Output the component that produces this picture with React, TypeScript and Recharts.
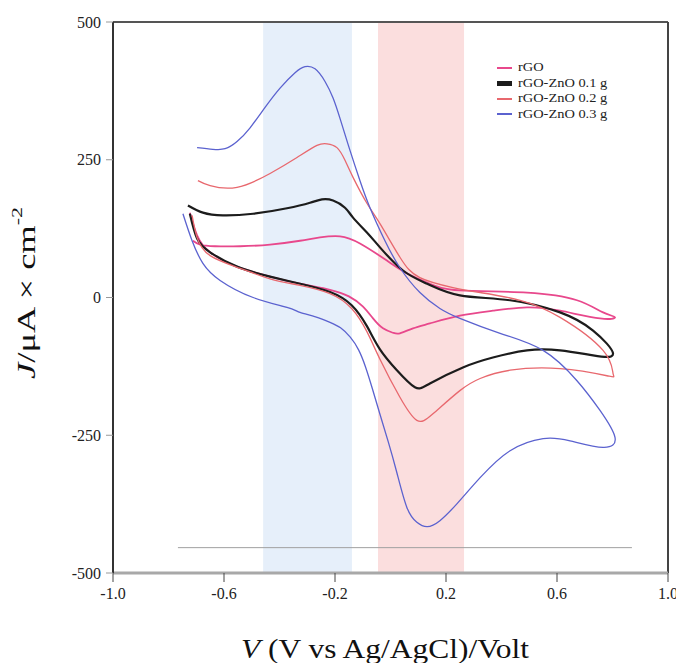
import React from 'react';
import { LineChart, Line, XAxis, YAxis, ReferenceArea, ReferenceLine, Legend } from 'recharts';

// Potential (V vs Ag/AgCl) , current density (µA/cm²) pairs, traced along each sweep
const rgoLoop: [number, number][] = [
  [-0.712, 103], [-0.686, 96], [-0.632, 93], [-0.542, 93], [-0.434, 96], [-0.326, 103],
  [-0.254, 109], [-0.182, 111], [-0.110, 98], [-0.013, 67], [0.059, 44], [0.142, 25],
  [0.250, 13], [0.492, 9], [0.672, -5], [0.766, -27], [0.809, -36],
  [0.755, -38], [0.611, -24], [0.492, -18], [0.369, -24], [0.250, -33], [0.142, -47],
  [0.081, -56], [0.034, -65], [0.009, -64], [-0.027, -56], [-0.063, -38], [-0.100, -16],
  [-0.150, 2], [-0.218, 14], [-0.326, 25], [-0.434, 38], [-0.553, 56], [-0.650, 82],
  [-0.697, 113], [-0.723, 154],
];

const zno01Loop: [number, number][] = [
  [-0.730, 167], [-0.676, 154], [-0.604, 149], [-0.495, 152], [-0.373, 162], [-0.290, 172],
  [-0.247, 178], [-0.207, 176], [-0.164, 163], [-0.135, 145], [-0.085, 118], [-0.038, 91],
  [0.045, 49], [0.132, 25], [0.250, 4], [0.431, -5], [0.611, -27], [0.730, -60], [0.802, -102],
  [0.730, -105], [0.611, -96], [0.492, -96], [0.369, -109], [0.261, -127], [0.142, -156],
  [0.088, -163], [0.023, -132], [-0.038, -94], [-0.085, -52], [-0.140, -14], [-0.218, 10],
  [-0.326, 25], [-0.434, 38], [-0.553, 56], [-0.650, 82], [-0.697, 107], [-0.723, 152],
];

const zno02Loop: [number, number][] = [
  [-0.694, 212], [-0.650, 203], [-0.553, 200], [-0.434, 225], [-0.337, 254], [-0.265, 276],
  [-0.229, 279], [-0.193, 272], [-0.164, 249], [-0.135, 218], [-0.085, 171], [-0.038, 134],
  [0.034, 73], [0.106, 36], [0.225, 18], [0.323, 9], [0.467, -5], [0.611, -36], [0.766, -96],
  [0.802, -138],
  [0.780, -142], [0.611, -129], [0.431, -132], [0.323, -147], [0.250, -169], [0.153, -211],
  [0.095, -223], [0.034, -181], [-0.038, -112], [-0.085, -62], [-0.140, -20], [-0.218, 7],
  [-0.326, 22], [-0.434, 34], [-0.542, 53], [-0.650, 76], [-0.697, 109], [-0.715, 149],
];

const zno03Loop: [number, number][] = [
  [-0.697, 272], [-0.640, 269], [-0.596, 270], [-0.553, 283], [-0.506, 308], [-0.452, 345],
  [-0.398, 380], [-0.344, 408], [-0.308, 419], [-0.272, 415], [-0.236, 392], [-0.207, 362],
  [-0.182, 325], [-0.146, 267], [-0.110, 212], [-0.074, 163], [-0.020, 103], [0.034, 54],
  [0.106, 9], [0.178, -20], [0.250, -38], [0.395, -65], [0.550, -96], [0.672, -151],
  [0.755, -205], [0.809, -254],
  [0.766, -272], [0.647, -260], [0.550, -256], [0.431, -278], [0.323, -327], [0.240, -374],
  [0.178, -405], [0.132, -416], [0.095, -408], [0.059, -381], [0.023, -318], [-0.008, -262],
  [-0.038, -212], [-0.065, -166], [-0.090, -126], [-0.115, -95], [-0.145, -72], [-0.180, -55],
  [-0.218, -45], [-0.270, -35], [-0.326, -27], [-0.373, -18], [-0.495, 0], [-0.614, 31],
  [-0.676, 62], [-0.715, 103], [-0.748, 152],
];

const seriesNames = ['rGO', 'rGO-ZnO 0.1 g', 'rGO-ZnO 0.2 g', 'rGO-ZnO 0.3 g'];
const seriesColors = ['#e8488c', '#1c1c1c', '#e8686e', '#5b62cf'];
const seriesWidths = [1.8, 2.2, 1.3, 1.3];
const legendIconWidths = [2.5, 4.5, 2, 2];

const xTicks = [-1.0, -0.6, -0.2, 0.2, 0.6, 1.0];
const yTicks = [-500, -250, 0, 250, 500];

const blueBand = [-0.459, -0.139];
const redBand = [-0.045, 0.265];
const baselineJ = -454;
const baselineV = [-0.766, 0.87];

const loops = [rgoLoop, zno01Loop, zno02Loop, zno03Loop];
const seriesData = loops.map((l) => l.map(([v, j]) => ({ v, j })));

const serif = '"Liberation Serif", "Times New Roman", serif';

const LegendBox = () => (
  <div style={{ fontFamily: serif, fontSize: 12, color: '#222', lineHeight: '15.5px' }}>
    {seriesNames.map((n, i) => (
      <div key={n} style={{ display: 'flex', alignItems: 'center', height: 15.5 }}>
        <div style={{ width: 15, height: legendIconWidths[i], background: seriesColors[i], marginRight: 6 }} />
        <span style={{ display: 'inline-block', transform: 'scaleX(1.2)', transformOrigin: 'left center', whiteSpace: 'nowrap' }}>{n}</span>
      </div>
    ))}
  </div>
);

const YLabel = () => (
  <text
    x={18}
    y={285}
    transform="rotate(-90, 18, 285)"
    textAnchor="middle"
    dominantBaseline="central"
    fontFamily={serif}
    fontSize={25}
    fill="#111"
    textLength={172}
    lengthAdjust="spacingAndGlyphs"
  >
    <tspan fontStyle="italic">J</tspan>
    <tspan>/μA × cm</tspan>
    <tspan fontSize={15} dy={-9}>-2</tspan>
  </text>
);

const XLabel = () => (
  <text
    x={377}
    y={650}
    textAnchor="middle"
    fontFamily={serif}
    fontSize={27}
    fill="#111"
    textLength={288}
    lengthAdjust="spacingAndGlyphs"
  >
    <tspan fontStyle="italic">V</tspan>
    <tspan> (V vs Ag/AgCl)/Volt</tspan>
  </text>
);

export default function App() {
  return (
    <div style={{ fontFamily: serif }}>
      <LineChart width={676} height={655} margin={{ top: 14, right: 16, bottom: 0, left: 0 }}>
        <XAxis
          dataKey="v"
          type="number"
          domain={[-1, 1]}
          ticks={xTicks}
          allowDataOverflow
          height={90}
          axisLine={{ stroke: '#a8a8a8', strokeWidth: 3 }}
          tickLine={{ stroke: '#444' }}
          tickSize={9}
          tickMargin={6}
          tickFormatter={(t: number) => t.toFixed(1)}
          tick={{ fontSize: 16, fill: '#222', fontFamily: serif }}
          fontSize={16}
          fontFamily={serif}
          label={<XLabel />}
        />
        <YAxis
          dataKey="j"
          type="number"
          domain={[-500, 500]}
          ticks={yTicks}
          allowDataOverflow
          width={105}
          axisLine={{ stroke: '#333', strokeWidth: 2 }}
          tickLine={{ stroke: '#999' }}
          tickSize={7}
          tickMargin={5}
          tick={{ fontSize: 16, fill: '#222', fontFamily: serif }}
          fontSize={16}
          fontFamily={serif}
          label={<YLabel />}
        />
        <ReferenceArea x1={blueBand[0]} x2={blueBand[1]} y1={-500} y2={500} fill="#e6effa" fillOpacity={1} stroke="none" />
        <ReferenceArea x1={redBand[0]} x2={redBand[1]} y1={-500} y2={500} fill="#fbdede" fillOpacity={1} stroke="none" />
        <ReferenceLine y={500} stroke="#555" strokeWidth={2} />
        <ReferenceLine x={1} stroke="#444" strokeWidth={2} />
        <ReferenceLine
          segment={[{ x: baselineV[0], y: baselineJ }, { x: baselineV[1], y: baselineJ }]}
          stroke="#a0a0a0"
          strokeWidth={1}
        />
        {seriesData.map((d, i) => (
          <Line
            key={seriesNames[i]}
            data={d}
            dataKey="j"
            name={seriesNames[i]}
            type="natural"
            stroke={seriesColors[i]}
            strokeWidth={seriesWidths[i]}
            dot={false}
            activeDot={false}
            isAnimationActive={false}
          />
        ))}
        <Legend
          layout="horizontal"
          verticalAlign="middle"
          align="center"
          content={<LegendBox />}
          wrapperStyle={{ position: 'absolute', left: 489, top: 52, width: 150, height: 70 }}
        />
      </LineChart>
    </div>
  );
}
